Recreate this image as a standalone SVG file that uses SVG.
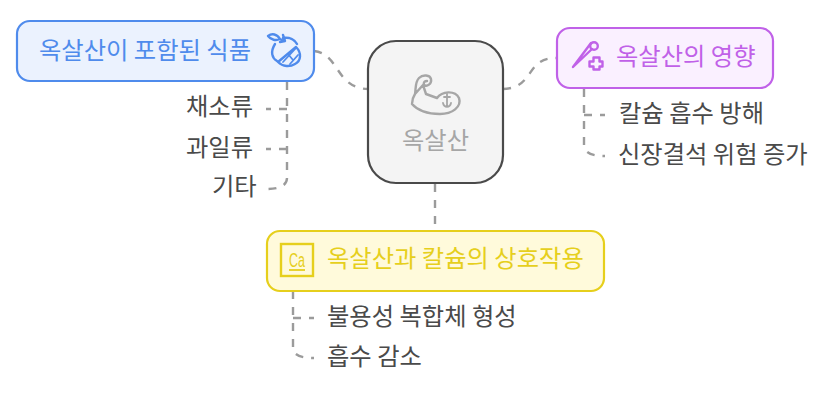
<svg xmlns="http://www.w3.org/2000/svg" width="834" height="415" viewBox="0 0 834 415">
<style>
text{font-family:"Noto Sans CJK KR","Noto Sans",sans-serif;font-size:24.3px;fill:#4a4a4a}
.c{fill:none;stroke:#9b9b9b;stroke-width:2.4;stroke-dasharray:8 8}
.i{fill:none;stroke-width:2.4;stroke-linecap:round;stroke-linejoin:round}
</style>
<rect width="834" height="415" fill="#fff"/>
<g id="connectors">
<path class="c" d="M314 51C340 54 335 88 368 89"/>
<path class="c" d="M503 89C535 88 525 58 556 58"/>
<path class="c" d="M435 184V230"/>
<path class="c" d="M287 82V178Q287 189 266 189"/>
<path class="c" d="M287 109H266"/>
<path class="c" d="M287 149H266"/>
<path class="c" d="M584 89V145Q584 156 605 156"/>
<path class="c" d="M584 115H605"/>
<path class="c" d="M293 291V348Q293 358 314 358"/>
<path class="c" d="M293 318H314"/>
</g>
<g id="center">
<rect x="368" y="41" width="135" height="142" rx="28" fill="#f4f4f4" stroke="#4a4a4a" stroke-width="2.2"/>
<g class="i" stroke="#a6a6a6">
<path d="M415 94C416 88 415 82 419 78C423 74 430 75 431 79C432 84 427 87 424 85C423 82 425 81 427 81M423 85L426 94L437 98C442 91 455 90 459 98C462 107 452 114 440 114C428 114 418 111 412 104C412 100 413 97 415 94Z"/>
<path d="M447 94V106M444 97H450M443 103C444 108 450 108 451 103" stroke-width="1.8"/>
</g>
<text x="435.500" y="149" text-anchor="middle" style="fill:#a6a6a6">옥살산</text>
</g>
<g id="food">
<rect x="17" y="21" width="297" height="60" rx="13" fill="#ebf2fe" stroke="#4f8bec" stroke-width="2.2"/>
<text x="39" y="59" style="fill:#4f8bec">옥살산이 포함된 식품</text>
<g class="i" stroke="#4f8bec">
<path d="M275 44C270 52 272 58 277 61M283 38C290 37 295 40 297 44"/>
<path d="M268 36C272 33 277 34 280 39C276 41 271 40 268 36ZM280 39L284 41M283 35L285 41L280 42"/>
<path d="M296 47C302 53 301 61 295 64C290 67 283 67 278 62Z"/>
<path d="M283 62L296 48M290 64L298 55M288 54L293 60" stroke-width="1.8"/>
</g>
</g>
<g id="food-1"><text x="186" y="115">채소류</text></g>
<g id="food-2"><text x="186" y="156">과일류</text></g>
<g id="food-3"><text x="212" y="195">기타</text></g>
<g id="effect">
<rect x="557" y="28" width="216" height="60" rx="13" fill="#faf0ff" stroke="#c061e8" stroke-width="2.2"/>
<text x="616" y="65" style="fill:#c061e8">옥살산의 영향</text>
<g class="i" stroke="#c061e8">
<circle cx="594" cy="46" r="3.800"/>
<path d="M591 43L573 67L592 49"/>
<path d="M590 61H594V57H600V61H603V66H600V69H594V66H590Z" transform="translate(-.500 .500)"/>
</g>
</g>
<g id="effect-1"><text x="619" y="122">칼슘 흡수 방해</text></g>
<g id="effect-2"><text x="618" y="163">신장결석 위험 증가</text></g>
<g id="interaction">
<rect x="267" y="231" width="337" height="60" rx="13" fill="#fffadb" stroke="#e6cf1c" stroke-width="2.2"/>
<text x="327" y="267" style="fill:#e6cf1c">옥살산과 칼슘의 상호작용</text>
<rect x="281" y="244" width="32" height="32" fill="none" stroke="#e6cf1c" stroke-width="2.400"/>
<text x="297" y="267" text-anchor="middle" style="fill:#e6cf1c;font-family:'Liberation Sans',sans-serif;font-size:20px" textLength="16" lengthAdjust="spacingAndGlyphs">Ca</text>
<path d="M289 270H305" stroke="#e6cf1c" stroke-width="1.800"/>
</g>
<g id="interaction-1"><text x="327" y="325">불용성 복합체 형성</text></g>
<g id="interaction-2"><text x="327" y="365">흡수 감소</text></g>
</svg>
